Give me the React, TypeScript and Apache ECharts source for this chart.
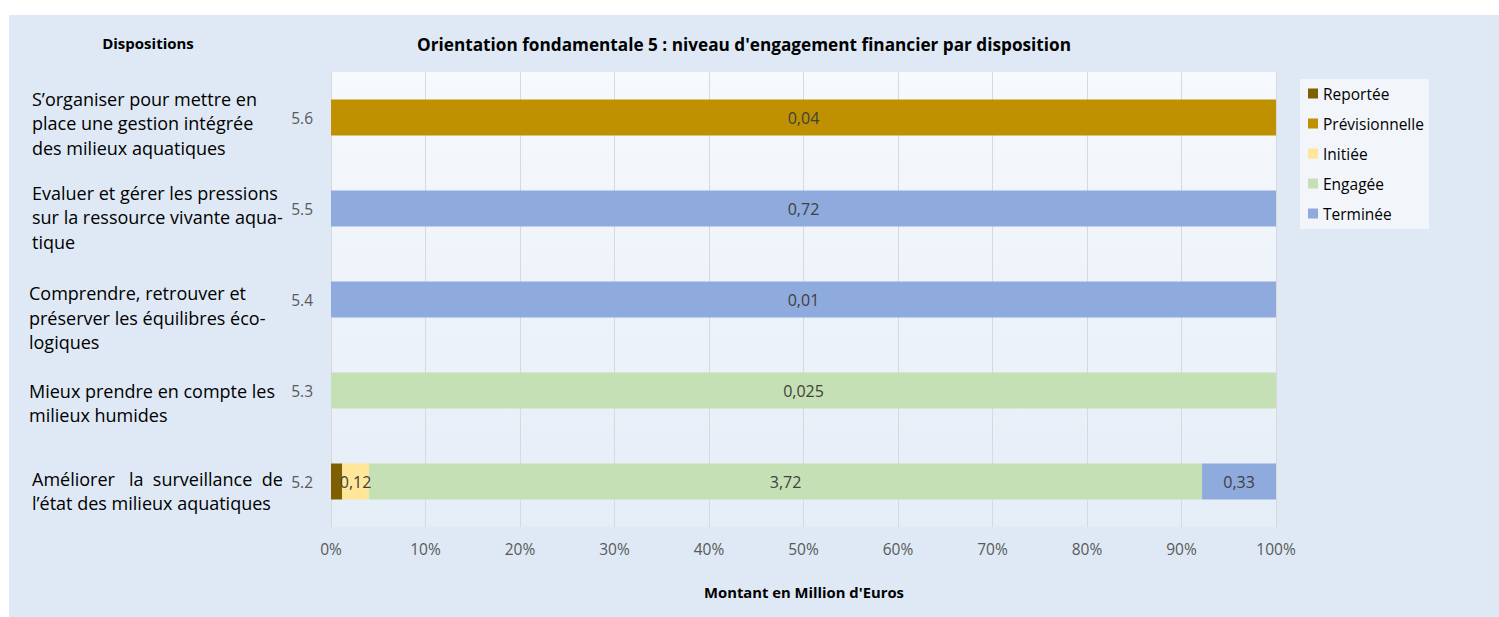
import React, { useEffect, useRef } from "react";
import * as echarts from "echarts";

const categories = ["5.2", "5.3", "5.4", "5.5", "5.6"];
const descriptions = [
  "Améliorer   la  surveillance  de\nl’état des milieux aquatiques",
  "Mieux prendre en compte les\nmilieux humides",
  "Comprendre, retrouver et\npréserver les équilibres éco-\nlogiques",
  "Evaluer et gérer les pressions\nsur la ressource vivante aqua-\ntique",
  "S’organiser pour mettre en\nplace une gestion intégrée\ndes milieux aquatiques",
];
const reportee = [0.05, 0, 0, 0, 0];
const previsionnelle = [0, 0, 0, 0, 0.04];
const initiee = [0.12, 0, 0, 0, 0];
const engagee = [3.72, 0.025, 0, 0, 0];
const terminee = [0.33, 0, 0.01, 0.72, 0];
const xTicks = [0, 10, 20, 30, 40, 50, 60, 70, 80, 90, 100];

const seriesDefs = [
  { name: "Reportée", data: reportee, color: "#7f6000", showLabel: false },
  { name: "Prévisionnelle", data: previsionnelle, color: "#bf9000", showLabel: true },
  { name: "Initiée", data: initiee, color: "#ffe699", showLabel: true },
  { name: "Engagée", data: engagee, color: "#c5e0b4", showLabel: true },
  { name: "Terminée", data: terminee, color: "#8faadc", showLabel: true },
];

const FONT = "'Open Sans', 'Noto Sans', sans-serif";
// layout of the description blocks (first-line centre relative to category centre, left edge)
const DESC_DY = [-3, 0, -6.5, -16, -19];
const DESC_X = [32, 29, 29, 32, 32];
const DESC_LH = 24.5;

export default function App() {
  const ref = useRef<HTMLDivElement>(null);
  useEffect(() => {
    if (!ref.current) return;
    const chart = echarts.init(ref.current, null, { renderer: "svg" });
    const totals = categories.map((_, i) =>
      seriesDefs.reduce((s, d) => s + d.data[i], 0)
    );
    const series = seriesDefs.map((d) => ({
      name: d.name,
      type: "bar",
      stack: "total",
      barWidth: 36,
      itemStyle: { color: d.color },
      label: {
        show: d.showLabel,
        position: "inside",
        color: "#404040",
        fontFamily: FONT,
        fontSize: 16,
        formatter: (p: any) => {
          const raw = d.data[p.dataIndex];
          return raw ? String(raw).replace(".", ",") : "";
        },
      },
      data: d.data.map((v, i) => (v ? { value: (v / totals[i]) * 100 } : null)),
    }));
    chart.setOption({
      animation: false,
      backgroundColor: "#ffffff",
      textStyle: { fontFamily: FONT },
      graphic: [
        {
          id: "bg",
          type: "rect",
          z: -100,
          shape: { x: 9, y: 15, width: 1490, height: 602 },
          style: { fill: "#dee9f5" },
        },
        {
          id: "disp",
          type: "text",
          x: 148,
          y: 43,
          style: {
            text: "Dispositions",
            font: `bold 15px ${FONT}`,
            fill: "#000",
            textAlign: "center",
            textVerticalAlign: "middle",
          },
        },
        {
          id: "title",
          type: "text",
          x: 744,
          y: 44,
          style: {
            text: "Orientation fondamentale 5 : niveau d'engagement financier par disposition",
            font: `bold 17.2px ${FONT}`,
            fill: "#000",
            textAlign: "center",
            textVerticalAlign: "middle",
          },
        },
        {
          id: "xname",
          type: "text",
          x: 804,
          y: 592,
          style: {
            text: "Montant en Million d'Euros",
            font: `bold 14.8px ${FONT}`,
            fill: "#000",
            textAlign: "center",
            textVerticalAlign: "middle",
          },
        },
      ],
      legend: {
        orient: "vertical",
        left: 1300,
        top: 79,
        padding: [6, 5, 7, 8],
        backgroundColor: "#f2f6fb",
        itemWidth: 10,
        itemHeight: 10,
        itemGap: 13,
        icon: "rect",
        textStyle: { fontFamily: FONT, fontSize: 15.5, color: "#000", lineHeight: 17 },
        data: seriesDefs.map((d) => d.name),
      },
      grid: {
        left: 331,
        right: 223,
        top: 72,
        bottom: 90,
        show: true,
        borderWidth: 0,
        backgroundColor: new echarts.graphic.LinearGradient(0, 0, 0, 1, [
          { offset: 0, color: "#f6f9fd" },
          { offset: 1, color: "#e5edf7" },
        ]),
      },
      xAxis: {
        type: "value",
        min: xTicks[0],
        max: xTicks[xTicks.length - 1],
        interval: 10,
        axisLine: { show: false },
        axisTick: { show: false },
        splitLine: { show: true, lineStyle: { color: "#d9d9d9", width: 1 } },
        axisLabel: {
          formatter: (v: number) => `${v}%`,
          color: "#595959",
          fontSize: 15.5,
          fontFamily: FONT,
          margin: 14,
        },
      },
      yAxis: {
        type: "category",
        data: categories,
        axisLine: { show: false },
        axisTick: { show: false },
        axisLabel: { color: "#595959", fontSize: 15.5, fontFamily: FONT, margin: 18, interval: 0 },
      },
      series,
    });
    const descGraphics = categories.map((c, i) => {
      const cy = chart.convertToPixel({ yAxisIndex: 0 }, c) as number;
      return {
        id: "desc" + i,
        type: "text",
        x: DESC_X[i],
        y: cy + DESC_DY[i] - DESC_LH / 2,
        style: {
          text: descriptions[i],
          font: `18px ${FONT}`,
          lineHeight: DESC_LH,
          fill: "#000",
          textAlign: "left",
          textVerticalAlign: "top",
        },
      };
    });
    chart.setOption({ graphic: descGraphics });
    return () => chart.dispose();
  }, []);
  return (
    <div
      ref={ref}
      style={{ position: "absolute", left: 0, top: 0, width: 1499, height: 617 }}
    />
  );
}
